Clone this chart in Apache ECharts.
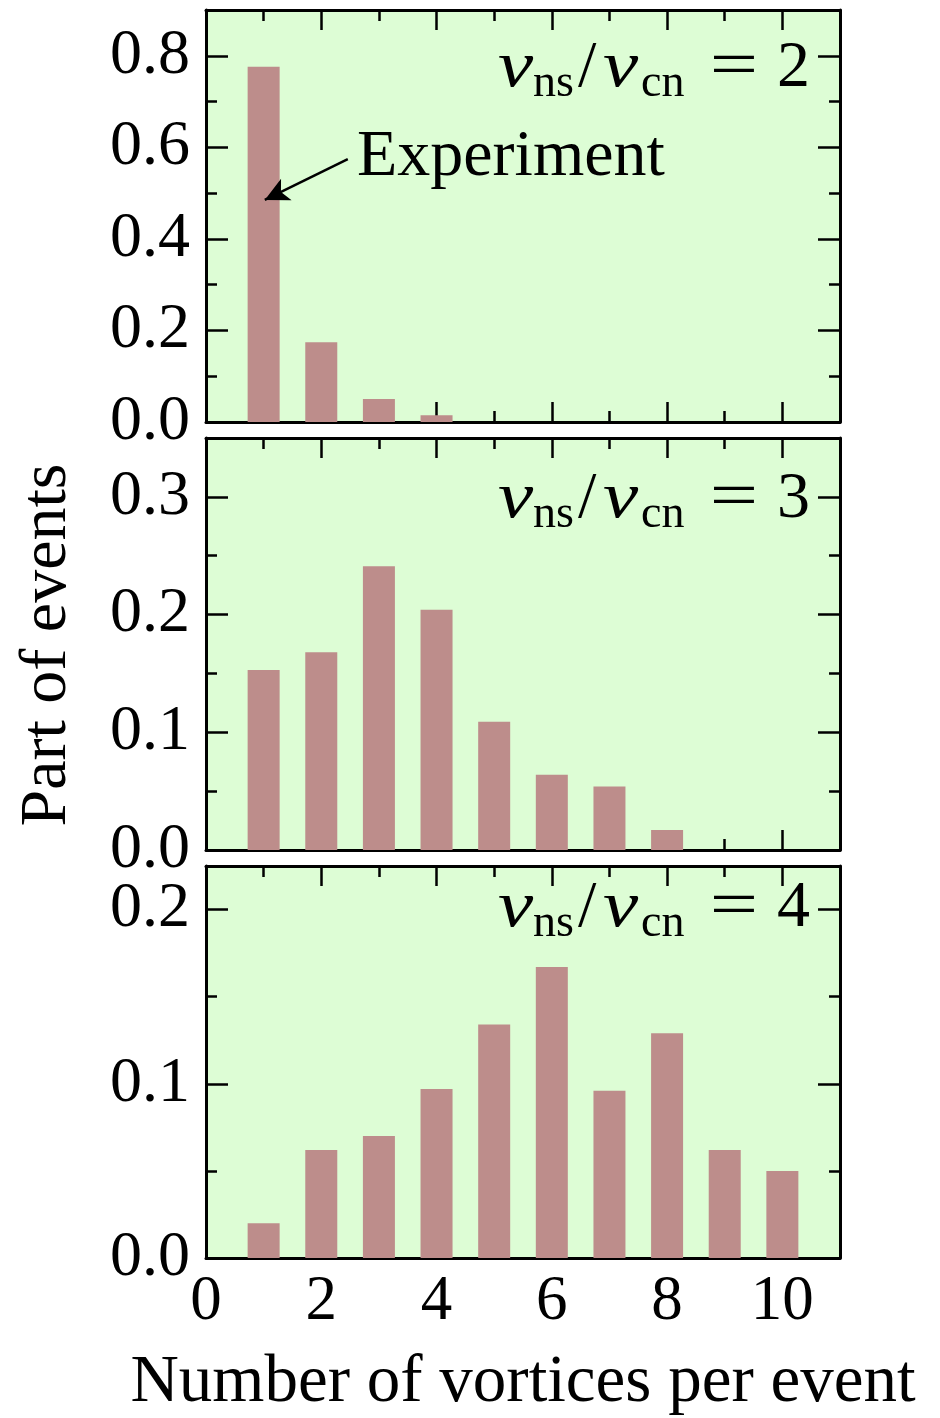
<!DOCTYPE html>
<html>
<head>
<meta charset="utf-8">
<script src="https://cdn.jsdelivr.net/npm/echarts@6/dist/echarts.min.js"></script>
<style>
html,body{margin:0;padding:0;background:#fff;}
#c{width:940px;height:1418px;}
</style>
</head>
<body>
<div id="c"></div>
<script>
// ---- data ----
const vortices = [1, 2, 3, 4, 5, 6, 7, 8, 9, 10];
const ratio2 = [0.776, 0.174, 0.050, 0.015];
const ratio3 = [0.153, 0.168, 0.241, 0.204, 0.109, 0.064, 0.054, 0.017];
const ratio4 = [0.020, 0.062, 0.070, 0.097, 0.134, 0.167, 0.096, 0.129, 0.062, 0.050];
const ratioLabels = ['2', '3', '4'];
const yMax = [0.9, 0.35, 0.225];
const yMajor = [0.2, 0.1, 0.1];
const yMinor = [0.1, 0.05, 0.05];
const xMin = 0, xMax = 11, xMajor = 2, xMinor = 1;
const arrowFrom = [2.46, 0.574];
const arrowTo = [1.02, 0.485];
const xTitle = 'Number of vortices per event';
const yTitle = 'Part of events';
const annotation = 'Experiment';

const FONT = "'Liberation Serif', 'DejaVu Serif', serif";
const BG = '#ddfdd5';
const BAR = '#bd8d8b';
const panels = [ratio2, ratio3, ratio4];
const gridTops = [10, 438, 866];
const gridHeights = [412, 412, 404];
const textBaselines = [89, 520, 929];

const chart = echarts.init(document.getElementById('c'), null, {renderer: 'canvas'});

const grids = [], xAxes = [], yAxes = [], series = [], graphics = [];

panels.forEach((vals, gi) => {
  grids.push({left: 206, right: 100, top: gridTops[gi], height: gridHeights[gi],
    show: true, backgroundColor: BG, borderWidth: 0, containLabel: false});
  const xBase = {type: 'value', gridIndex: gi, min: xMin, max: xMax,
    splitLine: {show: false}, axisLine: {onZero: false}};
  const lineOn = {show: true, onZero: false, lineStyle: {color: '#000', width: 3}};
  const lineOff = {show: false, onZero: false};
  // bottom major
  xAxes.push(Object.assign({}, xBase, {position: 'bottom', interval: xMajor, axisLine: lineOn,
    axisTick: {inside: true, length: 20, lineStyle: {color: '#000', width: 2.5}},
    axisLabel: {show: gi === 2, showMaxLabel: false, fontSize: 63, fontFamily: FONT, color: '#000', margin: 13},
    name: gi === 2 ? xTitle : '', nameLocation: 'middle', nameGap: 92,
    nameTextStyle: {fontSize: 67, fontFamily: FONT, color: '#000'}}));
  // bottom minor
  xAxes.push(Object.assign({}, xBase, {position: 'bottom', interval: xMinor, axisLine: lineOff,
    axisTick: {inside: true, length: 11, lineStyle: {color: '#000', width: 2.5}},
    axisLabel: {show: false}}));
  // top major
  xAxes.push(Object.assign({}, xBase, {position: 'top', interval: xMajor, axisLine: lineOn,
    axisTick: {inside: true, length: 20, lineStyle: {color: '#000', width: 2.5}},
    axisLabel: {show: false}}));
  // top minor
  xAxes.push(Object.assign({}, xBase, {position: 'top', interval: xMinor, axisLine: lineOff,
    axisTick: {inside: true, length: 11, lineStyle: {color: '#000', width: 2.5}},
    axisLabel: {show: false}}));

  const yBase = {type: 'value', gridIndex: gi, min: 0, max: yMax[gi], splitLine: {show: false}};
  yAxes.push(Object.assign({}, yBase, {position: 'left', interval: yMajor[gi], axisLine: lineOn,
    axisTick: {inside: true, length: 22, lineStyle: {color: '#000', width: 2.5}},
    axisLabel: {show: true, showMaxLabel: false, fontSize: 64, fontFamily: FONT, color: '#000', margin: 16,
      formatter: v => v.toFixed(1)}}));
  yAxes.push(Object.assign({}, yBase, {position: 'left', interval: yMinor[gi], axisLine: lineOff,
    axisTick: {inside: true, length: 11, lineStyle: {color: '#000', width: 2.5}},
    axisLabel: {show: false}}));
  yAxes.push(Object.assign({}, yBase, {position: 'right', interval: yMajor[gi], axisLine: lineOn,
    axisTick: {inside: true, length: 22, lineStyle: {color: '#000', width: 2.5}},
    axisLabel: {show: false}}));
  yAxes.push(Object.assign({}, yBase, {position: 'right', interval: yMinor[gi], axisLine: lineOff,
    axisTick: {inside: true, length: 11, lineStyle: {color: '#000', width: 2.5}},
    axisLabel: {show: false}}));

  const s = {type: 'bar', xAxisIndex: gi * 4, yAxisIndex: gi * 4, barWidth: 32,
    itemStyle: {color: BAR}, silent: true, z: 1,
    data: vals.map((v, i) => [vortices[i], v])};
  if (gi === 0) {
    s.markLine = {silent: true, symbol: ['none', 'arrow'], symbolSize: [18, 24],
      lineStyle: {color: '#000', width: 2.5, type: 'solid'}, label: {show: false},
      data: [[{coord: arrowFrom}, {coord: arrowTo}]]};
  }
  series.push(s);

  // ratio label pieces
  const b = textBaselines[gi];
  const main = 66, sub = 46;
  const mY = b - 0.305 * main, sY = b + 9 - 0.305 * sub;
  const piece = (x, y, text, size, italic, align, sx) => ({type: 'text', x: x, y: y, z: 10,
    scaleX: sx || 1,
    style: {text: text, fontSize: size, fontFamily: FONT, fontStyle: italic ? 'italic' : 'normal',
      fill: '#000', align: align || 'left', verticalAlign: 'middle'}});
  graphics.push(piece(498, mY, 'v', main, true, 'left', 1.2));
  graphics.push(piece(533, sY, 'ns', sub, false));
  graphics.push(piece(578, mY, '/', main, false));
  graphics.push(piece(603, mY, 'v', main, true, 'left', 1.2));
  graphics.push(piece(641, sY, 'cn', sub, false));
  graphics.push(piece(734, mY, '=', main, false, 'center', 1.3));
  graphics.push(piece(777, mY, ratioLabels[gi], main, false));
});

graphics.push({type: 'text', x: 357, y: 178 - 0.305 * 66, z: 10,
  style: {text: annotation, fontSize: 66, fontFamily: FONT, fill: '#000', align: 'left', verticalAlign: 'middle'}});
graphics.push({type: 'text', x: 48, y: 645, rotation: Math.PI / 2, z: 10,
  style: {text: yTitle, fontSize: 66, fontFamily: FONT, fill: '#000', align: 'center', verticalAlign: 'middle'}});

chart.setOption({
  animation: false,
  backgroundColor: '#fff',
  grid: grids,
  xAxis: xAxes,
  yAxis: yAxes,
  series: series,
  graphic: graphics
});
</script>
</body>
</html>
